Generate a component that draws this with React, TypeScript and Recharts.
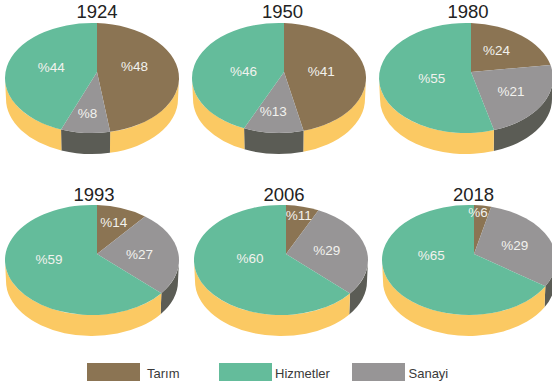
import React from "react";
import { PieChart, Pie, Legend } from "recharts";

// Printed percentages, as labelled in the reference
const years = ["1924", "1950", "1980", "1993", "2006", "2018"];
const tarim = [48, 41, 24, 14, 11, 6];
const sanayi = [8, 13, 21, 27, 29, 29];
const hizmetler = [44, 46, 55, 59, 60, 65];

// Slice sizes as actually drawn in the reference (they differ slightly from the printed labels)
const tarimArc = [47.8, 46.7, 22.8, 10.8, 7, 3.6];
const sanayiArc = [8.2, 10, 23.3, 26.4, 30.3, 31.3];
const hizmetlerArc = [44, 43.3, 53.9, 62.8, 62.7, 65.1];

const seriesNames = ["Tarım", "Sanayi", "Hizmetler"];
const topColors: Record<string, string> = { "Tarım": "#8B7453", Sanayi: "#979596", Hizmetler: "#64BC9B" };
const sideColors: Record<string, string> = { "Tarım": "#FBC963", Sanayi: "#5B5C55", Hizmetler: "#FBC963" };
const legendOrder = ["Tarım", "Hizmetler", "Sanayi"];

// Layout
const pieCx = [97, 284, 471, 97, 286, 474];
const pieCy = [72, 72, 72, 254, 254, 254];
const titleX = [97, 282.5, 468, 94, 284, 473.5];
const titleY = [18, 18, 18, 201, 201, 201];
const RX = 87;
const RY = 55;
const EDX = -5;
const EDY = 6;
const DEPTH = 21;
const FONT = "'Liberation Sans', Arial, sans-serif";
// Hand placement of the labels per pie: [Tarım, Sanayi, Hizmetler] as [dx, dy]
const labelNudge = [
  [[-6, -4], [-2, 2], [-3, 0]],
  [[-6, 2], [-4, 0], [2, 5]],
  [[-3, -1], [4, 4], [4, 3]],
  [[-4, 5], [-1, 2], [-8, -6]],
  [[-1, 0], [-2, 1], [4, -7]],
  [[-3, -3], [0, 1], [-4, -12]],
];

const RAD = Math.PI / 180;

// Ray from the apex (which sits off the ellipse centre) to the rim, returns rim parameter in radians clockwise from top
function rimParam(theta: number) {
  const px = -EDX / RX;
  const py = -EDY / RY;
  const dx = Math.sin(theta);
  const dy = -Math.cos(theta);
  const pd = px * dx + py * dy;
  const s = -pd + Math.sqrt(pd * pd - (px * px + py * py) + 1);
  let t = Math.atan2(px + s * dx, -(py + s * dy));
  if (t < 0) t += 2 * Math.PI;
  return t;
}

function SliceShape(props: any) {
  const { cx, cy, startAngle, endAngle, payload } = props;
  const ex = cx + EDX;
  const ey = cy + EDY;
  const a0 = (90 - startAngle) * RAD;
  const a1 = (90 - endAngle) * RAD;
  const t0 = a0 <= 1e-6 ? rimParam(0) : rimParam(a0);
  let t1 = rimParam(a1);
  if (t1 <= t0) t1 += 2 * Math.PI;
  const pt = (t: number, rx = RX, off = 0) => `${ex + rx * Math.sin(t)} ${ey - RY * Math.cos(t) + off}`;
  const large = t1 - t0 > Math.PI ? 1 : 0;
  const top = `M ${cx} ${cy} L ${pt(t0)} A ${RX} ${RY} 0 ${large} 1 ${pt(t1)} Z`;

  const w0 = Math.max(t0, Math.PI / 2);
  const w1 = Math.min(t1, (3 * Math.PI) / 2);
  let wall: string | null = null;
  if (w1 > w0) {
    const rb = RX - 1;
    wall = `M ${pt(w0)} A ${RX} ${RY} 0 0 1 ${pt(w1)} L ${pt(w1, rb, DEPTH)} A ${rb} ${RY} 0 0 0 ${pt(w0, rb, DEPTH)} Z`;
  }
  return (
    <g>
      {wall && <path d={wall} fill={payload.side} stroke="none" />}
      <path d={top} fill={payload.top} stroke="none" />
    </g>
  );
}

function SliceLabel(props: any) {
  const { cx, cy, midAngle, payload } = props;
  const m = (90 - midAngle) * RAD;
  const r = payload.share < 15 ? 0.72 : 0.5;
  const x = cx + RX * r * Math.sin(m) + payload.nudge[0];
  const y = cy - RY * r * Math.cos(m) + payload.nudge[1];
  return (
    <text x={x} y={y} dy={5} textAnchor="middle" fontFamily={FONT} fontSize={13.5} fill="#F2F2EE">
      {`%${payload.share}`}
    </text>
  );
}

function LegendContent() {
  const swatchX = [87, 219, 352];
  const textX = [147, 275, 408.5];
  return (
    <div style={{ position: "relative", width: 552, height: 387 }}>
      {legendOrder.map((n, i) => (
        <React.Fragment key={n}>
          <div style={{ position: "absolute", left: swatchX[i], top: 363, width: 53, height: 18, background: topColors[n] }} />
          <div style={{ position: "absolute", left: textX[i], top: 365.5, lineHeight: "15px", fontFamily: FONT, fontSize: 13, color: "#3A3A3A" }}>{n}</div>
        </React.Fragment>
      ))}
    </div>
  );
}

function rows(i: number) {
  const shares = [tarim[i], sanayi[i], hizmetler[i]];
  const arcs = [tarimArc[i], sanayiArc[i], hizmetlerArc[i]];
  return seriesNames.map((name, k) => ({
    name,
    share: shares[k],
    arc: arcs[k],
    top: topColors[name],
    side: sideColors[name],
    nudge: labelNudge[i][k],
  }));
}

export default function App() {
  return (
    <div style={{ position: "absolute", left: 0, top: 0, width: 552, height: 387 }}>
      <PieChart width={552} height={387} margin={{ top: 0, right: 0, bottom: 0, left: 0 }}>
        {years.map((y, i) => (
          <Pie
            key={y}
            data={rows(i)}
            dataKey="arc"
            nameKey="name"
            cx={pieCx[i]}
            cy={pieCy[i]}
            outerRadius={RX}
            startAngle={90}
            endAngle={-270}
            stroke="none"
            isAnimationActive={false}
            shape={SliceShape}
            label={SliceLabel}
            labelLine={false}
          />
        ))}
        {years.map((y, i) => (
          <text key={y} x={titleX[i]} y={titleY[i]} textAnchor="middle" fontFamily={FONT} fontSize={18.5} fill="#222">
            {y}
          </text>
        ))}
        <Legend content={LegendContent} wrapperStyle={{ left: 0, top: 0, width: 552, height: 387 }} />
      </PieChart>
    </div>
  );
}
